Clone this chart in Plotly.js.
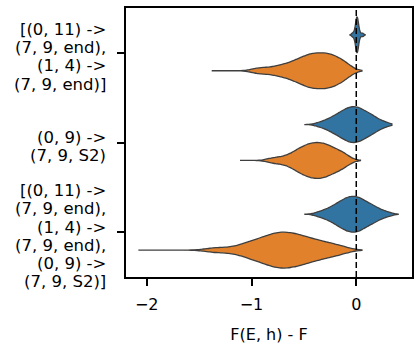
<!DOCTYPE html>
<html>
<head>
<meta charset="utf-8">
<script src="https://cdn.plot.ly/plotly-3.0.1.min.js"></script>
<style>
  html, body { margin: 0; padding: 0; background: #fff; }
  #graf { width: 420px; height: 350px; }
</style>
</head>
<body>
<div id="graf"></div>
<script>
// categories, top to bottom (one entry per line of the label)
const categories = [
    ["[(0, 11) ->", "(7, 9, end),", "(1, 4) ->", "(7, 9, end)]"],
    ["(0, 9) ->", "(7, 9, S2)"],
    ["[(0, 11) ->", "(7, 9, end),", "(1, 4) ->", "(7, 9, end),", "(0, 9) ->", "(7, 9, S2)]"]
];

// blue series, one sample list per category
const seriesA0 = [-0.035, -0.015, -0.005, 0.0, 0.003, 0.005, 0.006, 0.007, 0.008, 0.009, 0.010, 0.012, 0.015, 0.02, 0.03, 0.06];
const seriesA1 = [-0.34, -0.27, -0.245, -0.21, -0.183, -0.165, -0.148, -0.13, -0.112, -0.097, -0.084, -0.072, -0.059, -0.046, -0.034, -0.021, -0.008, 0.004, 0.017, 0.03, 0.042, 0.055, 0.073, 0.09, 0.11, 0.13, 0.148, 0.175, 0.205, 0.27];
const seriesA2 = [-0.35, -0.28, -0.25, -0.215, -0.188, -0.17, -0.152, -0.135, -0.117, -0.101, -0.088, -0.075, -0.062, -0.049, -0.036, -0.023, -0.01, 0.003, 0.016, 0.029, 0.042, 0.056, 0.074, 0.093, 0.113, 0.135, 0.157, 0.185, 0.22, 0.29];

// orange series
const seriesB0 = [-0.95, -0.86, -0.77, -0.72, -0.67, -0.63, -0.595, -0.57, -0.545, -0.52, -0.496, -0.477, -0.46, -0.443, -0.426, -0.409, -0.392, -0.374, -0.358, -0.341, -0.324, -0.306, -0.289, -0.272, -0.256, -0.238, -0.221, -0.204, -0.181, -0.156, -0.132, -0.106, -0.07];
const seriesB1 = [-0.80, -0.71, -0.645, -0.60, -0.568, -0.547, -0.526, -0.505, -0.483, -0.464, -0.448, -0.432, -0.416, -0.40, -0.385, -0.369, -0.352, -0.336, -0.32, -0.303, -0.287, -0.27, -0.254, -0.231, -0.205, -0.18, -0.154, -0.128, -0.085];
const seriesB2 = [-1.38, -1.26, -1.14, -1.08, -1.03, -1.00, -0.97, -0.94, -0.91, -0.88, -0.86, -0.84, -0.82, -0.80, -0.78, -0.765, -0.75, -0.73, -0.715, -0.70, -0.68, -0.66, -0.645, -0.63, -0.61, -0.59, -0.575, -0.555, -0.53, -0.51, -0.49, -0.47, -0.44, -0.41, -0.38, -0.35, -0.32, -0.28, -0.23, -0.18, -0.125];

// extent of each violin (min / max tail)
const spanA = [[-0.06, 0.085], [-0.49, 0.34], [-0.49, 0.40]];
const spanB = [[-1.38, 0.054], [-1.11, 0.04], [-2.08, 0.054]];

const xTicks = [-2, -1, 0];

const seriesA = [seriesA0, seriesA1, seriesA2];
const seriesB = [seriesB0, seriesB1, seriesB2];
const bwA = [0.012, 0.052, 0.052]; // kde bandwidth per violin
const bwB = [0.065, 0.06, 0.09];

function violin(vals, idx, color, grp, bw, span) {
    return {
        type: 'violin',
        orientation: 'h',
        x: vals,
        y: vals.map(() => idx),
        offsetgroup: grp,
        alignmentgroup: 'all',
        bandwidth: bw,
        spanmode: 'manual',
        span: span,
        scalemode: 'width',
        points: false,
        box: { visible: false },
        meanline: { visible: false },
        fillcolor: color,
        line: { color: '#3f3f3f', width: 1.3 },
        opacity: 1,
        hoverinfo: 'skip',
        showlegend: false
    };
}

let data = [];
for (let i = 0; i < categories.length; i++) {
    data.push(violin(seriesA[i], i, '#3274a1', 'a', bwA[i], spanA[i]));
    data.push(violin(seriesB[i], i, '#e1812c', 'b', bwB[i], spanB[i]));
}

const xFont = { family: 'DejaVu Sans, sans-serif', size: 16, color: '#000' };
const yFont = { family: 'DejaVu Sans, sans-serif', size: 16.5, color: '#000' };

// y tick labels, drawn line by line so the line spacing matches
let labels = [];
categories.forEach((lines, i) => {
    lines.forEach((txt, j) => {
        labels.push({
            xref: 'paper', yref: 'y',
            x: 0, y: i,
            xanchor: 'right', yanchor: 'middle',
            xshift: -18,
            yshift: -((j - (lines.length - 1) / 2) * 18.3) - 4,
            text: txt,
            showarrow: false,
            font: yFont
        });
    });
});

const layout = {
    width: 420,
    height: 350,
    margin: { l: 126, r: 8, t: 8, b: 73 },
    paper_bgcolor: '#fff',
    plot_bgcolor: '#fff',
    font: xFont,
    violinmode: 'group',
    violingap: 0.2,
    violingroupgap: 0,
    showlegend: false,
    xaxis: {
        range: [-2.198, 0.532],
        tickvals: xTicks,
        ticks: 'outside',
        ticklen: 7,
        tickwidth: 2,
        tickcolor: '#000',
        ticklabelstandoff: 5,
        showline: true,
        mirror: true,
        linecolor: '#000',
        linewidth: 2,
        showgrid: false,
        zeroline: false,
        tickfont: xFont,
        title: { text: 'F(E, h) - F', font: xFont, standoff: 16 }
    },
    yaxis: {
        range: [2.5, -0.5],
        autorange: false,
        tickvals: [0, 1, 2],
        showticklabels: false,
        ticks: 'outside',
        ticklen: 7,
        tickwidth: 2,
        tickcolor: '#000',
        showline: true,
        mirror: true,
        linecolor: '#000',
        linewidth: 2,
        showgrid: false,
        zeroline: false
    },
    annotations: labels,
    shapes: [{
        type: 'line',
        xref: 'x', yref: 'paper',
        x0: 0, x1: 0, y0: 0, y1: 1,
        layer: 'above',
        line: { color: '#000', width: 1.5, dash: '6px,3px' }
    }]
};

Plotly.newPlot('graf', data, layout, { staticPlot: true, displayModeBar: false });
</script>
</body>
</html>
